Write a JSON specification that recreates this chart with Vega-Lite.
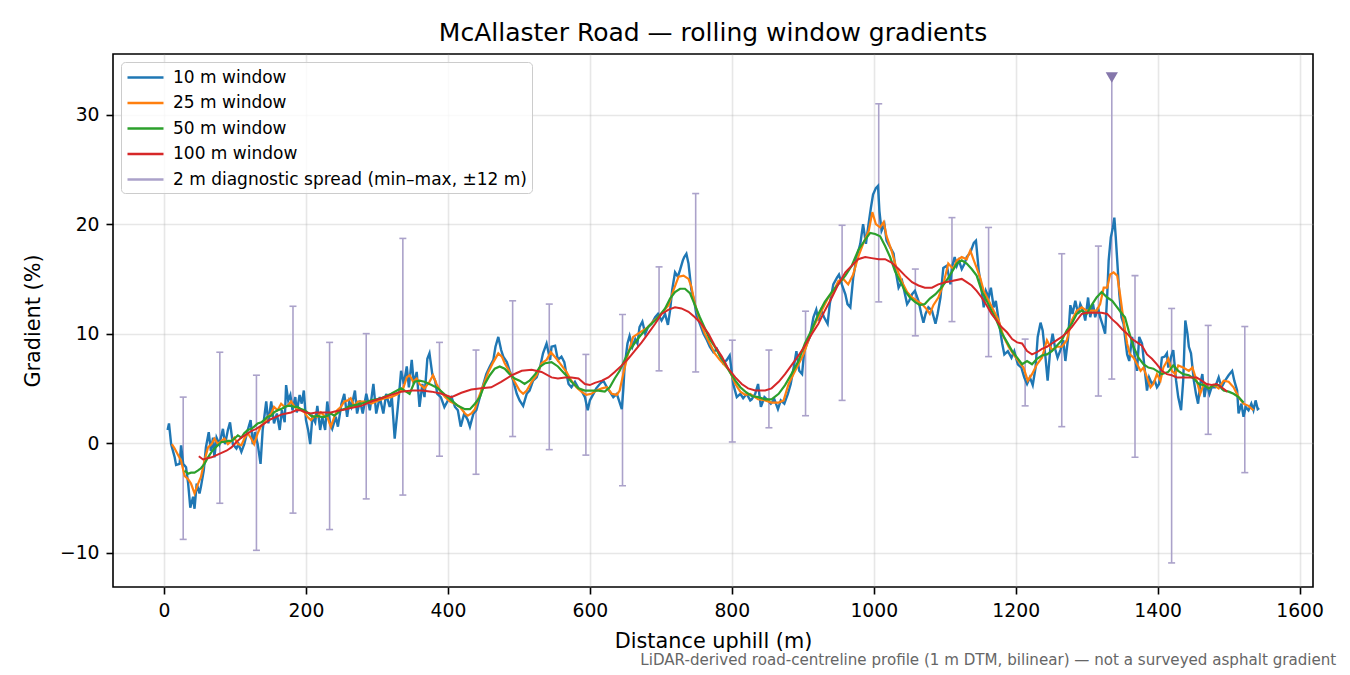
{
  "$schema": "https://vega.github.io/schema/vega-lite/v6.json",
  "description": "McAllaster Road rolling window gradients",
  "autosize": {"type": "pad"},
  "padding": {"left": 21, "top": 20, "right": 14, "bottom": 8},
  "bounds": "flush",
  "title": {
    "text": "LiDAR-derived road-centreline profile (1 m DTM, bilinear) — not a surveyed asphalt gradient",
    "orient": "bottom",
    "anchor": "end",
    "frame": "bounds",
    "fontSize": 15.1,
    "fontWeight": "normal",
    "font": "DejaVu Sans",
    "color": "#666666",
    "baseline": "top",
    "offset": 1,
    "dx": 12
  },
  "config": {
    "font": "DejaVu Sans",
    "view": {"stroke": "black", "strokeWidth": 1.6},
    "axis": {
      "domain": false,
      "tickColor": "black",
      "tickWidth": 1.6,
      "tickSize": 7,
      "labelPadding": 7,
      "labelFontSize": 18.75,
      "labelColor": "black",
      "labelFont": "DejaVu Sans",
      "labelFlush": false,
      "titleFont": "DejaVu Sans",
      "titleFontSize": 20.8,
      "titleFontWeight": "normal",
      "titleColor": "black",
      "gridColor": "#b0b0b0",
      "gridOpacity": 0.3,
      "gridWidth": 1.6
    },
    "legend": {
      "orient": "top-left",
      "offset": 8,
      "padding": 5,
      "rowPadding": 6.5,
      "direction": "vertical",
      "columns": 1,
      "labelFontSize": 17,
      "labelFont": "DejaVu Sans",
      "labelColor": "black",
      "labelLimit": 600,
      "labelOffset": 26,
      "symbolSize": 324,
      "strokeColor": "#cccccc",
      "fillColor": "rgba(255,255,255,0.8)",
      "cornerRadius": 4
    }
  },
  "datasets": {
    "w10": [
      {"d":5,"g":1.2},{"d":7,"g":1.8},{"d":10,"g":-0.1},{"d":15,"g":-1.3},{"d":17,"g":-2.0},{"d":22,"g":-1.9},{"d":24,"g":-0.2},{"d":27,"g":-1.9},{"d":31,"g":-2.2},{"d":34,"g":-3.7},{"d":37,"g":-5.9},{"d":41,"g":-4.9},{"d":43,"g":-6.0},{"d":46,"g":-3.7},{"d":50,"g":-4.6},{"d":52,"g":-4.0},{"d":56,"g":-2.5},{"d":59,"g":-0.4},{"d":63,"g":1.0},{"d":66,"g":-0.7},{"d":69,"g":0.5},{"d":71,"g":-1.3},{"d":74,"g":0.5},{"d":78,"g":-0.1},{"d":83,"g":1.3},{"d":86,"g":-0.1},{"d":90,"g":1.2},{"d":93,"g":1.9},{"d":97,"g":-0.1},{"d":102,"g":-0.5},{"d":105,"g":-0.1},{"d":109,"g":-0.8},{"d":113,"g":-0.1},{"d":118,"g":1.2},{"d":122,"g":2.1},{"d":125,"g":-0.1},{"d":128,"g":1.0},{"d":132,"g":-0.1},{"d":136,"g":-1.9},{"d":139,"g":1.2},{"d":144,"g":3.8},{"d":147,"g":1.8},{"d":151,"g":3.8},{"d":155,"g":1.8},{"d":159,"g":2.7},{"d":163,"g":1.2},{"d":166,"g":3.0},{"d":170,"g":1.9},{"d":172,"g":5.3},{"d":175,"g":3.9},{"d":178,"g":4.4},{"d":181,"g":3.0},{"d":185,"g":4.2},{"d":187,"g":2.8},{"d":191,"g":4.4},{"d":194,"g":3.6},{"d":197,"g":4.8},{"d":200,"g":2.1},{"d":203,"g":1.2},{"d":206,"g":-0.1},{"d":209,"g":2.4},{"d":213,"g":1.9},{"d":216,"g":3.4},{"d":220,"g":1.2},{"d":223,"g":2.4},{"d":227,"g":1.2},{"d":230,"g":3.8},{"d":234,"g":1.8},{"d":237,"g":1.3},{"d":242,"g":2.4},{"d":245,"g":1.5},{"d":250,"g":3.6},{"d":254,"g":4.5},{"d":258,"g":2.4},{"d":261,"g":3.8},
      {"d":264,"g":3.3},{"d":269,"g":4.8},{"d":272,"g":2.7},{"d":276,"g":3.9},{"d":280,"g":2.7},{"d":285,"g":4.5},{"d":290,"g":3.0},{"d":295,"g":5.4},{"d":299,"g":2.7},{"d":304,"g":4.2},{"d":309,"g":2.7},{"d":313,"g":4.5},{"d":318,"g":3.3},{"d":321,"g":4.2},{"d":325,"g":0.4},{"d":329,"g":3.0},{"d":332,"g":5.1},{"d":334,"g":6.6},{"d":338,"g":5.4},{"d":342,"g":7.0},{"d":345,"g":5.1},{"d":349,"g":7.6},{"d":352,"g":5.4},{"d":356,"g":6.5},{"d":360,"g":3.3},{"d":364,"g":5.4},{"d":367,"g":4.2},{"d":371,"g":7.7},{"d":374,"g":8.2},{"d":378,"g":6.3},{"d":382,"g":5.7},{"d":385,"g":4.5},{"d":390,"g":4.2},{"d":395,"g":3.3},{"d":400,"g":3.9},{"d":405,"g":4.2},{"d":410,"g":3.3},{"d":414,"g":3.0},{"d":418,"g":1.5},{"d":423,"g":2.7},{"d":428,"g":2.1},{"d":431,"g":1.5},{"d":436,"g":2.7},{"d":440,"g":3.0},{"d":445,"g":4.2},{"d":450,"g":5.4},{"d":454,"g":6.3},{"d":459,"g":7.0},{"d":464,"g":7.6},{"d":467,"g":8.8},{"d":471,"g":9.7},{"d":475,"g":8.5},{"d":478,"g":7.9},{"d":483,"g":7.4},{"d":487,"g":6.6},{"d":492,"g":5.7},{"d":497,"g":4.5},{"d":501,"g":3.9},{"d":506,"g":3.4},{"d":511,"g":4.5},{"d":515,"g":4.8},{"d":520,"g":5.7},{"d":525,"g":6.0},{"d":530,"g":7.0},{"d":534,"g":8.2},{"d":539,"g":9.1},{"d":544,"g":7.6},
      {"d":546,"g":8.8},{"d":551,"g":8.9},{"d":555,"g":7.6},{"d":560,"g":7.9},{"d":564,"g":7.4},{"d":567,"g":6.3},{"d":570,"g":5.4},{"d":574,"g":5.1},{"d":579,"g":5.6},{"d":584,"g":5.0},{"d":588,"g":4.8},{"d":593,"g":4.2},{"d":597,"g":3.0},{"d":600,"g":3.9},{"d":605,"g":4.5},{"d":609,"g":5.0},{"d":614,"g":5.4},{"d":619,"g":5.7},{"d":624,"g":5.1},{"d":628,"g":4.7},{"d":633,"g":4.2},{"d":638,"g":4.5},{"d":641,"g":3.9},{"d":645,"g":3.1},{"d":647,"g":4.8},{"d":649,"g":7.0},{"d":653,"g":9.1},{"d":656,"g":9.8},{"d":660,"g":8.8},{"d":664,"g":9.5},{"d":667,"g":9.1},{"d":670,"g":10.6},{"d":674,"g":11.1},{"d":678,"g":10.0},{"d":682,"g":10.6},{"d":687,"g":10.9},{"d":692,"g":11.5},{"d":696,"g":11.8},{"d":701,"g":11.2},{"d":706,"g":11.8},{"d":710,"g":10.8},{"d":713,"g":12.1},{"d":716,"g":14.0},{"d":720,"g":15.6},{"d":724,"g":15.2},{"d":727,"g":15.8},{"d":731,"g":16.7},{"d":733,"g":17.0},{"d":736,"g":17.3},{"d":739,"g":16.4},{"d":741,"g":15.2},{"d":743,"g":14.0},{"d":747,"g":13.0},{"d":750,"g":11.8},{"d":755,"g":10.9},{"d":760,"g":10.0},{"d":765,"g":9.4},{"d":769,"g":8.8},{"d":774,"g":8.3},{"d":779,"g":8.6},{"d":783,"g":8.0},{"d":788,"g":7.3},{"d":793,"g":7.6},{"d":797,"g":8.0},{"d":802,"g":5.4},{"d":807,"g":4.2},{"d":812,"g":4.5},{"d":816,"g":4.1},{"d":821,"g":4.5},{"d":826,"g":3.9},
      {"d":828,"g":4.0},{"d":833,"g":4.5},{"d":837,"g":5.4},{"d":841,"g":3.3},{"d":846,"g":4.2},{"d":851,"g":3.9},{"d":855,"g":3.6},{"d":860,"g":4.0},{"d":865,"g":3.1},{"d":869,"g":3.9},{"d":874,"g":3.6},{"d":879,"g":4.5},{"d":883,"g":5.4},{"d":888,"g":7.2},{"d":891,"g":8.4},{"d":895,"g":6.6},{"d":899,"g":6.3},{"d":902,"g":8.4},{"d":906,"g":9.1},{"d":910,"g":9.7},{"d":915,"g":11.5},{"d":919,"g":12.2},{"d":922,"g":11.2},{"d":926,"g":12.1},{"d":930,"g":11.5},{"d":935,"g":10.9},{"d":938,"g":12.7},{"d":943,"g":14.5},{"d":948,"g":15.1},{"d":951,"g":15.4},{"d":955,"g":14.5},{"d":960,"g":13.6},{"d":963,"g":12.7},{"d":967,"g":12.4},{"d":971,"g":15.1},{"d":976,"g":17.0},{"d":981,"g":18.2},{"d":985,"g":20.0},{"d":989,"g":18.2},{"d":992,"g":19.7},{"d":996,"g":21.5},{"d":999,"g":22.7},{"d":1003,"g":23.3},{"d":1006,"g":23.5},{"d":1008,"g":21.2},{"d":1011,"g":19.4},{"d":1015,"g":20.0},{"d":1018,"g":18.5},{"d":1023,"g":17.9},{"d":1028,"g":17.3},{"d":1031,"g":15.7},{"d":1035,"g":14.2},{"d":1040,"g":14.8},{"d":1043,"g":13.9},{"d":1047,"g":12.7},{"d":1050,"g":13.0},{"d":1054,"g":13.6},{"d":1058,"g":13.9},{"d":1063,"g":13.0},{"d":1067,"g":11.8},{"d":1070,"g":11.0},{"d":1073,"g":11.8},{"d":1077,"g":12.4},{"d":1082,"g":12.1},{"d":1087,"g":10.9},{"d":1090,"g":11.8},{"d":1094,"g":13.3},{"d":1098,"g":16.0},{"d":1103,"g":16.2},{"d":1108,"g":14.5},
      {"d":1110,"g":16.0},{"d":1114,"g":17.0},{"d":1117,"g":16.2},{"d":1120,"g":16.7},{"d":1124,"g":15.9},{"d":1128,"g":16.4},{"d":1131,"g":17.0},{"d":1136,"g":17.4},{"d":1141,"g":18.3},{"d":1144,"g":18.5},{"d":1148,"g":15.7},{"d":1151,"g":14.5},{"d":1155,"g":12.4},{"d":1158,"g":13.9},{"d":1162,"g":13.3},{"d":1165,"g":14.2},{"d":1169,"g":12.4},{"d":1172,"g":13.0},{"d":1176,"g":11.2},{"d":1181,"g":9.1},{"d":1184,"g":8.1},{"d":1189,"g":8.4},{"d":1194,"g":7.8},{"d":1198,"g":8.4},{"d":1203,"g":7.2},{"d":1208,"g":6.9},{"d":1212,"g":6.0},{"d":1216,"g":5.4},{"d":1220,"g":6.0},{"d":1224,"g":5.3},{"d":1228,"g":6.9},{"d":1231,"g":9.7},{"d":1235,"g":11.0},{"d":1238,"g":10.3},{"d":1242,"g":7.8},{"d":1245,"g":5.7},{"d":1249,"g":8.8},{"d":1252,"g":10.0},{"d":1256,"g":8.5},{"d":1259,"g":7.8},{"d":1263,"g":8.5},{"d":1267,"g":9.4},{"d":1270,"g":7.5},{"d":1274,"g":9.7},{"d":1277,"g":12.6},{"d":1280,"g":11.8},{"d":1284,"g":13.0},{"d":1288,"g":11.8},{"d":1291,"g":12.7},{"d":1295,"g":12.1},{"d":1298,"g":11.2},{"d":1302,"g":13.3},{"d":1305,"g":11.5},{"d":1309,"g":12.7},{"d":1312,"g":11.5},{"d":1316,"g":12.4},{"d":1319,"g":11.5},{"d":1322,"g":10.9},{"d":1326,"g":10.0},{"d":1329,"g":13.6},{"d":1331,"g":16.7},{"d":1334,"g":18.8},{"d":1337,"g":19.7},{"d":1339,"g":20.6},{"d":1341,"g":18.8},{"d":1344,"g":15.7},{"d":1346,"g":13.6},{"d":1349,"g":11.5},{"d":1352,"g":10.9},{"d":1354,"g":9.7},{"d":1357,"g":8.1},{"d":1360,"g":7.5},{"d":1364,"g":9.7},{"d":1368,"g":7.8},{"d":1371,"g":6.6},{"d":1374,"g":9.7},{"d":1378,"g":9.1},{"d":1382,"g":6.6},{"d":1385,"g":4.8},{"d":1388,"g":6.0},{"d":1392,"g":5.4},{"d":1396,"g":5.7},{"d":1399,"g":5.1},{"d":1402,"g":5.4},{"d":1406,"g":7.8},
      {"d":1410,"g":7.9},{"d":1413,"g":8.2},{"d":1415,"g":6.9},{"d":1419,"g":7.9},{"d":1422,"g":8.5},{"d":1426,"g":5.7},{"d":1429,"g":4.2},{"d":1433,"g":3.0},{"d":1436,"g":5.7},{"d":1439,"g":11.2},{"d":1442,"g":10.0},{"d":1444,"g":8.8},{"d":1447,"g":8.2},{"d":1451,"g":5.7},{"d":1454,"g":4.5},{"d":1457,"g":3.6},{"d":1460,"g":5.4},{"d":1463,"g":6.3},{"d":1466,"g":4.2},{"d":1469,"g":5.4},{"d":1473,"g":4.5},{"d":1476,"g":5.1},{"d":1481,"g":5.1},{"d":1486,"g":6.0},{"d":1490,"g":5.1},{"d":1495,"g":5.7},{"d":1500,"g":6.2},{"d":1505,"g":6.6},{"d":1508,"g":5.7},{"d":1512,"g":4.8},{"d":1514,"g":2.7},{"d":1518,"g":3.6},{"d":1521,"g":2.4},{"d":1524,"g":3.3},{"d":1528,"g":3.0},{"d":1532,"g":3.6},{"d":1535,"g":3.0},{"d":1538,"g":3.9},{"d":1541,"g":3.1},{"d":1543,"g":3.2}
    ],
    "w25": [
      {"d":11,"g":-0.1},{"d":15,"g":-0.5},{"d":19,"g":-1.0},{"d":24,"g":-1.6},{"d":29,"g":-3.0},{"d":34,"g":-3.3},{"d":38,"g":-3.7},{"d":43,"g":-4.6},{"d":48,"g":-3.7},{"d":52,"g":-3.1},{"d":57,"g":-1.6},{"d":62,"g":-0.4},{"d":67,"g":-0.1},{"d":71,"g":0.4},{"d":76,"g":-0.1},{"d":81,"g":0.2},{"d":85,"g":0.4},{"d":90,"g":-0.1},{"d":95,"g":0.2},{"d":99,"g":0.5},{"d":104,"g":-0.1},{"d":109,"g":-0.2},{"d":113,"g":0.4},{"d":118,"g":0.9},{"d":123,"g":0.4},{"d":127,"g":-0.1},{"d":132,"g":0.9},{"d":137,"g":1.6},{"d":141,"g":1.8},{"d":146,"g":2.4},{"d":151,"g":2.7},{"d":155,"g":3.3},{"d":160,"g":3.0},{"d":165,"g":3.6},{"d":170,"g":3.3},{"d":174,"g":3.4},{"d":179,"g":3.8},{"d":184,"g":3.3},{"d":188,"g":3.1},{"d":193,"g":3.0},{"d":198,"g":2.8},{"d":202,"g":2.4},{"d":207,"g":2.1},{"d":212,"g":2.5},{"d":216,"g":2.4},{"d":221,"g":2.8},{"d":226,"g":2.5},{"d":230,"g":2.4},{"d":235,"g":1.5},{"d":240,"g":2.4},{"d":244,"g":3.0},{"d":249,"g":3.3},{"d":254,"g":3.8},{"d":259,"g":3.9},{"d":263,"g":4.1},{"d":268,"g":3.4},{"d":273,"g":3.8},
      {"d":278,"g":3.8},{"d":283,"g":3.8},{"d":292,"g":3.6},{"d":302,"g":3.9},{"d":311,"g":4.1},{"d":320,"g":4.2},{"d":330,"g":4.5},{"d":337,"g":5.0},{"d":342,"g":6.0},{"d":346,"g":6.2},{"d":351,"g":5.6},{"d":356,"g":5.9},{"d":360,"g":5.4},{"d":367,"g":5.0},{"d":374,"g":5.6},{"d":379,"g":6.2},{"d":384,"g":5.4},{"d":389,"g":4.8},{"d":396,"g":4.2},{"d":403,"g":3.8},{"d":410,"g":3.6},{"d":417,"g":3.3},{"d":424,"g":2.7},{"d":428,"g":2.5},{"d":433,"g":2.7},{"d":438,"g":3.1},{"d":443,"g":4.1},{"d":450,"g":5.3},{"d":457,"g":6.5},{"d":464,"g":7.4},{"d":471,"g":8.2},{"d":476,"g":7.9},{"d":480,"g":7.3},{"d":487,"g":6.5},{"d":494,"g":5.6},{"d":501,"g":4.8},{"d":506,"g":4.5},{"d":511,"g":4.8},{"d":518,"g":5.6},{"d":525,"g":6.2},{"d":532,"g":7.3},{"d":539,"g":7.6},{"d":545,"g":8.3},
      {"d":553,"g":7.7},{"d":560,"g":7.1},{"d":567,"g":6.5},{"d":574,"g":5.7},{"d":581,"g":5.1},{"d":588,"g":4.7},{"d":595,"g":4.4},{"d":602,"g":4.5},{"d":609,"g":4.8},{"d":617,"g":5.0},{"d":624,"g":5.1},{"d":631,"g":4.5},{"d":638,"g":4.4},{"d":642,"g":4.8},{"d":647,"g":6.3},{"d":654,"g":8.2},{"d":661,"g":9.7},{"d":668,"g":10.0},{"d":675,"g":10.3},{"d":682,"g":10.6},{"d":689,"g":11.1},{"d":696,"g":11.5},{"d":703,"g":12.0},{"d":711,"g":12.6},{"d":718,"g":14.0},{"d":725,"g":15.2},{"d":732,"g":15.3},{"d":739,"g":15.0},{"d":743,"g":14.3},{"d":748,"g":12.7},{"d":755,"g":11.2},{"d":762,"g":10.0},{"d":769,"g":9.1},{"d":776,"g":8.2},{"d":783,"g":7.6},{"d":790,"g":7.1},{"d":797,"g":6.6},{"d":805,"g":5.4},{"d":812,"g":4.7},{"d":819,"g":4.4},{"d":826,"g":4.5},
      {"d":837,"g":4.0},{"d":847,"g":3.9},{"d":856,"g":3.7},{"d":866,"g":3.7},{"d":873,"g":3.9},{"d":880,"g":5.4},{"d":887,"g":6.3},{"d":894,"g":7.2},{"d":901,"g":8.1},{"d":908,"g":9.4},{"d":915,"g":10.6},{"d":922,"g":11.5},{"d":929,"g":12.4},{"d":936,"g":13.3},{"d":943,"g":13.8},{"d":950,"g":14.8},{"d":957,"g":15.0},{"d":964,"g":14.5},{"d":971,"g":15.4},{"d":978,"g":17.0},{"d":985,"g":18.2},{"d":993,"g":19.4},{"d":998,"g":21.1},{"d":1003,"g":20.0},{"d":1009,"g":19.7},{"d":1014,"g":20.2},{"d":1018,"g":18.9},{"d":1025,"g":17.6},{"d":1032,"g":16.0},{"d":1040,"g":14.7},{"d":1047,"g":13.8},{"d":1054,"g":13.3},{"d":1061,"g":13.0},{"d":1068,"g":12.7},{"d":1075,"g":12.2},{"d":1079,"g":11.8},{"d":1084,"g":12.6},{"d":1091,"g":13.3},{"d":1098,"g":14.5},{"d":1105,"g":16.4},
      {"d":1112,"g":15.9},{"d":1117,"g":16.7},{"d":1124,"g":17.0},{"d":1131,"g":16.8},{"d":1136,"g":17.6},{"d":1141,"g":16.7},{"d":1145,"g":16.0},{"d":1150,"g":15.1},{"d":1155,"g":13.9},{"d":1162,"g":13.0},{"d":1169,"g":12.1},{"d":1176,"g":11.2},{"d":1183,"g":9.7},{"d":1190,"g":8.8},{"d":1197,"g":8.1},{"d":1204,"g":7.5},{"d":1211,"g":6.9},{"d":1217,"g":5.7},{"d":1223,"g":6.3},{"d":1230,"g":7.2},{"d":1237,"g":7.8},{"d":1244,"g":9.4},{"d":1251,"g":8.5},{"d":1258,"g":8.8},{"d":1265,"g":8.8},{"d":1272,"g":9.4},{"d":1279,"g":11.2},{"d":1286,"g":12.1},{"d":1293,"g":12.4},{"d":1300,"g":12.1},{"d":1307,"g":12.1},{"d":1314,"g":12.1},{"d":1319,"g":12.7},{"d":1324,"g":14.2},{"d":1329,"g":14.2},{"d":1333,"g":15.4},{"d":1338,"g":15.6},{"d":1343,"g":15.3},{"d":1347,"g":13.6},{"d":1352,"g":11.2},{"d":1357,"g":9.1},{"d":1361,"g":8.1},{"d":1366,"g":7.8},{"d":1371,"g":7.2},{"d":1376,"g":6.6},{"d":1380,"g":6.9},{"d":1385,"g":6.0},{"d":1390,"g":5.1},{"d":1394,"g":5.4},{"d":1399,"g":6.3},{"d":1404,"g":5.7},
      {"d":1408,"g":6.9},{"d":1415,"g":7.7},{"d":1420,"g":6.6},{"d":1425,"g":6.3},{"d":1429,"g":7.1},{"d":1436,"g":6.9},{"d":1444,"g":6.6},{"d":1449,"g":6.9},{"d":1455,"g":5.7},{"d":1460,"g":4.5},{"d":1465,"g":5.4},{"d":1472,"g":5.0},{"d":1479,"g":5.3},{"d":1486,"g":5.0},{"d":1493,"g":5.7},{"d":1500,"g":5.6},{"d":1507,"g":5.1},{"d":1514,"g":4.2},{"d":1521,"g":3.6},{"d":1528,"g":3.4},{"d":1535,"g":3.0}
    ],
    "w50": [
      {"d":29,"g":-2.5},{"d":34,"g":-2.8},{"d":38,"g":-2.7},{"d":43,"g":-2.7},{"d":48,"g":-2.5},{"d":52,"g":-2.3},{"d":57,"g":-1.9},{"d":62,"g":-1.3},{"d":67,"g":-0.8},{"d":71,"g":-0.5},{"d":76,"g":-0.2},{"d":81,"g":0.1},{"d":85,"g":0.1},{"d":90,"g":0.2},{"d":95,"g":0.2},{"d":99,"g":0.4},{"d":104,"g":0.7},{"d":109,"g":0.5},{"d":113,"g":0.9},{"d":118,"g":1.2},{"d":123,"g":1.3},{"d":127,"g":1.5},{"d":132,"g":1.8},{"d":137,"g":1.9},{"d":141,"g":2.1},{"d":146,"g":2.4},{"d":151,"g":2.5},{"d":155,"g":2.8},{"d":160,"g":3.0},{"d":165,"g":3.1},{"d":170,"g":3.3},{"d":174,"g":3.4},{"d":179,"g":3.4},{"d":184,"g":3.3},{"d":188,"g":3.3},{"d":193,"g":3.1},{"d":198,"g":3.0},{"d":202,"g":2.8},{"d":207,"g":2.5},{"d":212,"g":2.4},{"d":216,"g":2.5},{"d":221,"g":2.4},{"d":226,"g":2.4},{"d":230,"g":2.5},{"d":235,"g":2.7},{"d":240,"g":2.5},{"d":244,"g":2.7},{"d":249,"g":3.0},{"d":254,"g":3.1},{"d":259,"g":3.3},{"d":264,"g":3.4},{"d":278,"g":3.6},{"d":292,"g":3.9},{"d":306,"g":4.1},{"d":320,"g":4.5},{"d":334,"g":5.0},{"d":346,"g":4.5},{"d":353,"g":5.6},{"d":360,"g":5.7},{"d":367,"g":5.6},{"d":377,"g":5.3},{"d":386,"g":5.0},{"d":396,"g":4.4},{"d":405,"g":3.9},{"d":414,"g":3.4},{"d":424,"g":3.1},{"d":431,"g":3.1},{"d":438,"g":3.6},{"d":445,"g":4.2},{"d":452,"g":5.4},{"d":459,"g":6.2},{"d":466,"g":6.8},{"d":473,"g":7.0},{"d":480,"g":6.8},{"d":487,"g":6.3},{"d":494,"g":5.9},{"d":501,"g":5.7},{"d":508,"g":5.4},{"d":515,"g":5.7},{"d":523,"g":6.3},{"d":530,"g":7.0},{"d":537,"g":7.3},{"d":546,"g":7.4},{"d":555,"g":7.0},{"d":565,"g":6.3},{"d":574,"g":5.6},{"d":584,"g":5.0},{"d":593,"g":4.8},{"d":602,"g":4.8},{"d":612,"g":4.8},{"d":621,"g":4.7},{"d":628,"g":5.1},{"d":635,"g":5.9},{"d":642,"g":6.6},{"d":649,"g":7.6},{"d":656,"g":8.5},{"d":664,"g":9.2},{"d":671,"g":9.8},{"d":678,"g":10.3},{"d":685,"g":10.8},{"d":692,"g":11.2},{"d":699,"g":11.7},{"d":706,"g":12.3},{"d":713,"g":13.2},{"d":720,"g":13.8},{"d":727,"g":14.1},{"d":734,"g":14.1},{"d":741,"g":13.7},{"d":748,"g":12.6},{"d":755,"g":11.5},{"d":762,"g":10.5},{"d":769,"g":9.5},{"d":776,"g":8.8},{"d":783,"g":8.0},{"d":790,"g":7.3},{"d":797,"g":6.5},{"d":805,"g":5.7},{"d":812,"g":5.1},{"d":819,"g":4.7},{"d":828,"g":4.3},{"d":837,"g":4.2},{"d":847,"g":4.0},{"d":856,"g":4.0},{"d":866,"g":4.5},{"d":875,"g":5.3},{"d":884,"g":6.3},{"d":894,"g":7.5},{"d":903,"g":9.1},{"d":913,"g":10.4},{"d":922,"g":11.8},{"d":931,"g":12.9},{"d":941,"g":13.8},{"d":950,"g":14.5},{"d":960,"g":15.3},{"d":969,"g":16.2},{"d":978,"g":17.6},{"d":988,"g":18.6},{"d":995,"g":19.2},{"d":1002,"g":19.1},{"d":1009,"g":18.9},{"d":1016,"g":18.0},{"d":1023,"g":17.0},{"d":1030,"g":15.7},{"d":1037,"g":14.8},{"d":1044,"g":13.9},{"d":1051,"g":13.3},{"d":1058,"g":12.9},{"d":1065,"g":12.6},{"d":1072,"g":12.7},{"d":1079,"g":13.2},{"d":1087,"g":13.6},{"d":1094,"g":14.1},{"d":1101,"g":14.7},{"d":1108,"g":15.4},{"d":1117,"g":16.4},{"d":1124,"g":16.7},{"d":1131,"g":16.4},{"d":1138,"g":15.9},{"d":1145,"g":15.3},{"d":1152,"g":13.9},{"d":1159,"g":13.0},{"d":1166,"g":12.1},{"d":1173,"g":11.2},{"d":1180,"g":10.1},{"d":1188,"g":9.2},{"d":1195,"g":8.4},{"d":1202,"g":7.8},{"d":1209,"g":7.2},{"d":1216,"g":7.5},{"d":1223,"g":7.2},{"d":1230,"g":7.7},{"d":1237,"g":8.0},{"d":1244,"g":8.1},{"d":1251,"g":8.4},{"d":1258,"g":8.9},{"d":1265,"g":9.4},{"d":1272,"g":10.3},{"d":1279,"g":10.9},{"d":1286,"g":11.8},{"d":1293,"g":12.1},{"d":1300,"g":11.8},{"d":1307,"g":12.6},{"d":1314,"g":13.3},{"d":1321,"g":13.8},{"d":1329,"g":13.3},{"d":1336,"g":13.0},{"d":1343,"g":12.4},{"d":1350,"g":11.8},{"d":1354,"g":11.5},{"d":1359,"g":10.3},{"d":1366,"g":8.8},{"d":1373,"g":7.8},{"d":1380,"g":7.2},{"d":1387,"g":6.9},{"d":1394,"g":6.8},{"d":1401,"g":6.5},{"d":1406,"g":6.3},{"d":1415,"g":6.5},{"d":1422,"g":7.1},{"d":1429,"g":6.6},{"d":1436,"g":6.3},{"d":1444,"g":6.2},{"d":1451,"g":5.9},{"d":1458,"g":5.4},{"d":1465,"g":5.3},{"d":1472,"g":5.0},{"d":1479,"g":5.3},{"d":1486,"g":5.3},{"d":1493,"g":4.8},{"d":1500,"g":4.7},{"d":1507,"g":4.5},{"d":1514,"g":4.2},{"d":1521,"g":3.7}
    ],
    "w100": [
      {"d":49,"g":-1.2},{"d":55,"g":-1.5},{"d":60,"g":-1.4},{"d":67,"g":-1.3},{"d":74,"g":-1.1},{"d":81,"g":-0.9},{"d":88,"g":-0.7},{"d":95,"g":-0.4},{"d":102,"g":0.1},{"d":109,"g":0.5},{"d":116,"g":0.8},{"d":123,"g":1.1},{"d":130,"g":1.3},{"d":137,"g":1.6},{"d":144,"g":1.9},{"d":151,"g":2.2},{"d":158,"g":2.4},{"d":165,"g":2.6},{"d":172,"g":2.7},{"d":179,"g":2.8},{"d":186,"g":3.0},{"d":193,"g":3.0},{"d":200,"g":2.8},{"d":207,"g":2.7},{"d":214,"g":2.8},{"d":221,"g":2.8},{"d":228,"g":2.8},{"d":235,"g":2.8},{"d":242,"g":2.9},{"d":249,"g":3.0},{"d":256,"g":3.1},{"d":263,"g":3.2},{"d":270,"g":3.3},{"d":278,"g":3.4},{"d":292,"g":3.8},{"d":306,"g":4.1},{"d":320,"g":4.4},{"d":334,"g":4.7},{"d":349,"g":4.8},{"d":363,"g":4.8},{"d":377,"g":4.7},{"d":391,"g":4.5},{"d":405,"g":4.2},{"d":419,"g":4.6},{"d":433,"g":4.9},{"d":447,"g":5.0},{"d":461,"g":5.1},{"d":475,"g":5.6},{"d":490,"g":6.2},{"d":504,"g":6.6},{"d":518,"g":6.7},{"d":532,"g":6.5},{"d":546,"g":6.0},{"d":555,"g":5.9},{"d":565,"g":6.0},{"d":574,"g":6.0},{"d":584,"g":5.9},{"d":593,"g":5.4},{"d":600,"g":5.3},{"d":607,"g":5.5},{"d":617,"g":5.7},{"d":626,"g":6.0},{"d":635,"g":6.5},{"d":645,"g":7.1},{"d":654,"g":7.7},{"d":664,"g":8.5},{"d":673,"g":9.2},{"d":682,"g":10.0},{"d":692,"g":10.9},{"d":701,"g":11.8},{"d":711,"g":12.2},{"d":720,"g":12.4},{"d":729,"g":12.3},{"d":739,"g":12.0},{"d":748,"g":11.5},{"d":757,"g":10.9},{"d":767,"g":10.0},{"d":776,"g":8.9},{"d":786,"g":7.9},{"d":795,"g":6.8},{"d":805,"g":6.0},{"d":814,"g":5.4},{"d":823,"g":5.0},{"d":833,"g":4.8},{"d":847,"g":4.8},{"d":856,"g":5.0},{"d":866,"g":5.6},{"d":875,"g":6.3},{"d":884,"g":7.1},{"d":894,"g":8.0},{"d":903,"g":8.9},{"d":913,"g":10.0},{"d":922,"g":10.9},{"d":931,"g":12.1},{"d":941,"g":13.3},{"d":950,"g":14.5},{"d":960,"g":15.6},{"d":969,"g":16.2},{"d":978,"g":16.8},{"d":988,"g":17.0},{"d":997,"g":16.9},{"d":1007,"g":16.8},{"d":1016,"g":16.8},{"d":1025,"g":16.5},{"d":1035,"g":15.9},{"d":1044,"g":15.3},{"d":1054,"g":14.7},{"d":1063,"g":14.4},{"d":1072,"g":14.2},{"d":1082,"g":14.2},{"d":1091,"g":14.5},{"d":1101,"g":14.7},{"d":1110,"g":14.8},{"d":1124,"g":15.0},{"d":1131,"g":14.7},{"d":1138,"g":14.4},{"d":1145,"g":13.9},{"d":1152,"g":13.3},{"d":1159,"g":12.6},{"d":1166,"g":11.8},{"d":1173,"g":11.2},{"d":1180,"g":10.6},{"d":1188,"g":10.1},{"d":1195,"g":9.5},{"d":1202,"g":9.2},{"d":1209,"g":9.1},{"d":1216,"g":8.4},{"d":1223,"g":8.1},{"d":1230,"g":8.3},{"d":1237,"g":8.6},{"d":1244,"g":8.8},{"d":1251,"g":9.1},{"d":1258,"g":9.4},{"d":1265,"g":9.7},{"d":1272,"g":10.1},{"d":1279,"g":10.6},{"d":1286,"g":11.2},{"d":1293,"g":11.8},{"d":1300,"g":11.9},{"d":1307,"g":11.9},{"d":1314,"g":11.9},{"d":1321,"g":11.9},{"d":1329,"g":11.8},{"d":1336,"g":11.3},{"d":1343,"g":10.9},{"d":1350,"g":10.4},{"d":1357,"g":10.0},{"d":1364,"g":9.5},{"d":1371,"g":9.2},{"d":1378,"g":8.9},{"d":1385,"g":8.1},{"d":1392,"g":7.7},{"d":1399,"g":7.2},{"d":1406,"g":6.6},{"d":1413,"g":6.3},{"d":1420,"g":6.2},{"d":1427,"g":6.0},{"d":1434,"g":6.0},{"d":1448,"g":6.0},{"d":1455,"g":6.0},{"d":1462,"g":5.7},{"d":1469,"g":5.4},{"d":1476,"g":5.3},{"d":1483,"g":5.4},{"d":1490,"g":5.1},{"d":1498,"g":4.7}
    ],
    "spread": [
      {"d":27.0,"lo":-8.8,"hi":4.2,"offscale":false},
      {"d":78.6,"lo":-5.5,"hi":8.3,"offscale":false},
      {"d":130.2,"lo":-9.8,"hi":6.2,"offscale":false},
      {"d":181.7,"lo":-6.4,"hi":12.5,"offscale":false},
      {"d":233.3,"lo":-7.9,"hi":9.2,"offscale":false},
      {"d":284.9,"lo":-5.1,"hi":10.0,"offscale":false},
      {"d":336.5,"lo":-4.75,"hi":18.7,"offscale":false},
      {"d":388.1,"lo":-1.2,"hi":9.2,"offscale":false},
      {"d":439.6,"lo":-2.85,"hi":8.5,"offscale":false},
      {"d":491.2,"lo":0.6,"hi":13.0,"offscale":false},
      {"d":542.8,"lo":-0.6,"hi":12.7,"offscale":false},
      {"d":594.4,"lo":-1.1,"hi":8.1,"offscale":false},
      {"d":646.0,"lo":-3.9,"hi":11.75,"offscale":false},
      {"d":697.5,"lo":6.6,"hi":16.1,"offscale":false},
      {"d":749.1,"lo":6.5,"hi":22.8,"offscale":false},
      {"d":800.7,"lo":0.1,"hi":9.4,"offscale":false},
      {"d":852.3,"lo":1.4,"hi":8.5,"offscale":false},
      {"d":903.9,"lo":2.5,"hi":12.05,"offscale":false},
      {"d":955.4,"lo":3.9,"hi":19.9,"offscale":false},
      {"d":1007.0,"lo":12.9,"hi":31.0,"offscale":false},
      {"d":1058.6,"lo":9.8,"hi":15.9,"offscale":false},
      {"d":1110.2,"lo":11.1,"hi":20.6,"offscale":false},
      {"d":1161.8,"lo":7.9,"hi":19.7,"offscale":false},
      {"d":1213.3,"lo":3.4,"hi":9.5,"offscale":false},
      {"d":1264.9,"lo":1.5,"hi":17.3,"offscale":false},
      {"d":1316.5,"lo":4.3,"hi":18.0,"offscale":false},
      {"d":1335.4,"lo":5.85,"hi":33.4,"offscale":true},
      {"d":1368.1,"lo":-1.3,"hi":15.3,"offscale":false},
      {"d":1419.7,"lo":-10.95,"hi":12.3,"offscale":false},
      {"d":1471.2,"lo":0.8,"hi":10.75,"offscale":false},
      {"d":1522.8,"lo":-2.7,"hi":10.65,"offscale":false}
    ]
  },
  "vconcat": [
    {
      "width": 1200,
      "height": 533,
      "title": {
        "text": "McAllaster Road — rolling window gradients",
        "fontSize": 25,
        "fontWeight": "normal",
        "font": "DejaVu Sans",
        "color": "black",
        "anchor": "middle",
        "baseline": "alphabetic",
        "offset": -12
      },
      "encoding": {
        "x": {
          "field": "d",
          "type": "quantitative",
          "title": "Distance uphill (m)",
          "scale": {"domain": [-71.9, 1618.9], "nice": false, "zero": false},
          "axis": {"values": [0, 200, 400, 600, 800, 1000, 1200, 1400, 1600], "format": "d", "titlePadding": 12}
        },
        "y": {
          "field": "g",
          "type": "quantitative",
          "title": "Gradient (%)",
          "scale": {"domain": [-13.15, 35.55], "nice": false, "zero": false},
          "axis": {"values": [-10, 0, 10, 20, 30], "format": "d", "titlePadding": 16}
        }
      },
      "layer": [
        {
          "data": {"name": "spread"},
          "mark": {"type": "rule", "strokeWidth": 1.6},
          "encoding": {
            "y": {"field": "lo", "type": "quantitative", "title": "Gradient (%)"},
            "y2": {"field": "hi"},
            "color": {
              "datum": "2 m diagnostic spread (min–max, ±12 m)",
              "type": "nominal",
              "scale": {
                "domain": ["10 m window", "25 m window", "50 m window", "100 m window", "2 m diagnostic spread (min–max, ±12 m)"],
                "range": ["#1f77b4", "#ff7f0e", "#2ca02c", "#d62728", "#aba2ca"]
              },
              "legend": {
                "title": null,
                "symbolType": "M-1,0L3,0",
                "symbolStrokeWidth": 2.4,
                "symbolFillColor": "transparent"
              }
            }
          }
        },
        {
          "data": {"name": "spread"},
          "mark": {"type": "tick", "orient": "horizontal", "size": 7, "thickness": 1.6, "color": "#aba2ca", "opacity": 1},
          "encoding": {
            "y": {"field": "lo", "type": "quantitative", "title": "Gradient (%)"}
          }
        },
        {
          "data": {"name": "spread"},
          "transform": [{"filter": "!datum.offscale"}],
          "mark": {"type": "tick", "orient": "horizontal", "size": 7, "thickness": 1.6, "color": "#aba2ca", "opacity": 1},
          "encoding": {
            "y": {"field": "hi", "type": "quantitative", "title": "Gradient (%)"}
          }
        },
        {
          "data": {"name": "spread"},
          "transform": [{"filter": "datum.offscale"}],
          "mark": {"type": "point", "shape": "triangle-down", "filled": true, "size": 150, "color": "#8577ab", "opacity": 1},
          "encoding": {
            "y": {"field": "hi", "type": "quantitative", "title": "Gradient (%)"}
          }
        },
        {
          "data": {"name": "w10"},
          "mark": {"type": "line", "strokeWidth": 2.4},
          "encoding": {"color": {"datum": "10 m window", "type": "nominal"}}
        },
        {
          "data": {"name": "w25"},
          "mark": {"type": "line", "strokeWidth": 2.2},
          "encoding": {"color": {"datum": "25 m window", "type": "nominal"}}
        },
        {
          "data": {"name": "w50"},
          "mark": {"type": "line", "strokeWidth": 2.2},
          "encoding": {"color": {"datum": "50 m window", "type": "nominal"}}
        },
        {
          "data": {"name": "w100"},
          "mark": {"type": "line", "strokeWidth": 2.0},
          "encoding": {"color": {"datum": "100 m window", "type": "nominal"}}
        }
      ]
    }
  ]
}
